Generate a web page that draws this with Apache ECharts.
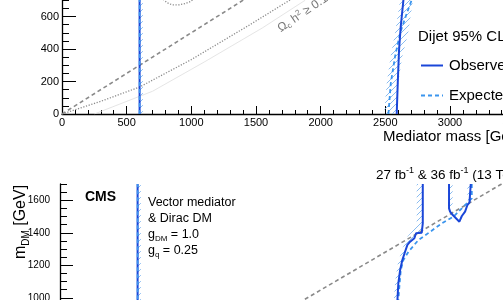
<!DOCTYPE html>
<html><head><meta charset="utf-8">
<script src="https://cdn.jsdelivr.net/npm/echarts@6/dist/echarts.min.js"></script>
<style>html,body{margin:0;padding:0;background:#fff;overflow:hidden;width:503px;height:300px}
#c{position:absolute;left:0;top:-100px;width:640px;height:700px}</style>
</head><body><div id="c"></div>
<script>
// ---------- data (Mediator mass [GeV], m_DM [GeV]) ----------
// upper panel (lower part of a dijet exclusion plot)
const topLowObs = [[600,0],[600,1000]];
const topObserved = [[2588,0],[2596,189],[2606,394],[2619,537],[2640,702],[2660,800]];
const topExpected = [[2524,0],[2542,189],[2575,353],[2614,497],[2666,620],[2704,702],[2740,780]];
const topHalfLine = [[0,0],[2000,1000]];
const topRelic = [[0,0],[300,78],[600,166],[1000,335],[1450,548],[1770,705],[1900,770]];
const topRelicArc = [[770,720],[790,700],[815,684],[850,672],[900,671],[950,679],[990,691],[1015,705],[1040,722]];
const topRelicHatch = [[250,0],[700,140],[1100,320],[1550,530],[1880,700]];
const topBandLow = [[600,0],[625,0],[625,1000],[600,1000]];
const topBandHigh = [[2490,0],[2511,189],[2540,350],[2575,497],[2614,702],[2640,800],[2740,800],[2714,702],[2676,497],[2630,350],[2600,189],[2590,0]];
// lower panel (upper part of a dijet exclusion plot)
const botLowObs = [[600,0],[600,1700]];
const botObservedA = [[2805,1700],[2805,1458],[2797,1400],[2753,1397],[2740,1366],[2707,1345],[2686,1325],[2668,1283],[2647,1232],[2630,1171],[2616,1089],[2609,986],[2605,900]];
const botObservedB = [[3008,1700],[3008,1550],[3016,1530],[3037,1509],[3088,1468],[3107,1503],[3132,1530],[3150,1571],[3166,1585],[3176,1597],[3176,1700]];
const botExpected = [[3184,1700],[3184,1612],[3158,1591],[3107,1550],[3042,1499],[2952,1458],[2862,1406],[2771,1355],[2694,1283],[2655,1232],[2635,1171],[2624,1068],[2616,986],[2612,900]];
const botGrayLine = [[1800,947],[3500,1740]];
const botBandLow = [[600,0],[625,0],[625,1700],[600,1700]];
const botBandA = [[2758,1700],[2805,1700],[2805,1458],[2797,1400],[2753,1397],[2740,1366],[2707,1345],[2686,1325],[2668,1283],[2647,1232],[2630,1171],[2616,1089],[2609,986],[2605,900],[2580,900],[2583,1000],[2592,1100],[2610,1200],[2640,1290],[2690,1380],[2740,1425],[2758,1440]];
const botBandB = [[3008,1700],[3036,1700],[3036,1560],[3010,1540]];
const botBandC = [[3150,1700],[3176,1700],[3176,1597],[3150,1600]];
const xTicks = {min:0, max:4000, step:500};
const yTicksTop = {min:0, max:1000, step:200};
const yTicksBot = {min:0, max:1700, step:200, minor:50};

// ---------- styles ----------
const FONT = 'Liberation Sans';
const OBS = '#1a46d8', EXP = '#3b95ee', GRAY = '#8a8a8a';
const DY = 100; // the chart box starts 100px above the visible window
function hatchCanvas(){
  const c = document.createElement('canvas'); c.width = 6; c.height = 6;
  const g = c.getContext('2d'); g.strokeStyle = '#7db4ee'; g.lineWidth = 0.9;
  g.beginPath(); g.moveTo(0,6); g.lineTo(6,0); g.moveTo(-1,1); g.lineTo(1,-1); g.moveTo(5,7); g.lineTo(7,5); g.stroke();
  return c;
}
const HATCH = {image: hatchCanvas(), repeat: 'repeat'};

function line(name, data, xi, yi, color, width, type){
  return {name, type:'line', xAxisIndex:xi, yAxisIndex:yi, data, symbol:'none', showSymbol:false,
    clip:true, silent:true, animation:false, lineStyle:{color, width, type: type||'solid'}, z:3};
}
function band(poly, xi, yi){
  return {type:'custom', coordinateSystem:'cartesian2d', xAxisIndex:xi, yAxisIndex:yi, data:[[0,0]],
    clip:true, silent:true, animation:false, z:1,
    renderItem:(p, api) => ({type:'polygon', shape:{points: poly.map(pt => api.coord(pt))}, style:{fill: HATCH, stroke:null}})};
}
const axLine = {lineStyle:{color:'#000', width:1.3}};
const lbl = (fs, m) => ({color:'#000', fontSize:fs, fontFamily:FONT, margin:m, formatter: v => String(v)});
function txt(x, y, text, font, extra){
  return Object.assign({type:'text', x, y:y+DY, style:Object.assign({text, font, fill:'#000',
    textAlign:'left', textVerticalAlign:'middle', align:'left', verticalAlign:'middle'}, extra||{})});
}
const subRich = (fs, sfs, lh) => ({a:{fontSize:fs, fontFamily:FONT, color:'#000', lineHeight:lh},
  b:{fontSize:sfs, fontFamily:FONT, color:'#000', lineHeight:sfs, verticalAlign:'bottom'},
  s:{fontSize:sfs, fontFamily:FONT, color:'#000', lineHeight:sfs, verticalAlign:'top'}});

const option = {
  animation:false,
  grid:[
    {left:62, right:60.67, top:51.5, bottom:486},
    {left:60, right:62.67, top:284, bottom:139.75}
  ],
  xAxis:[
    {gridIndex:0, type:'value', min:xTicks.min, max:xTicks.max, interval:xTicks.step,
      axisLine:axLine, axisTick:{inside:true, length:8, lineStyle:{color:'#000'}},
      minorTick:{show:true, splitNumber:5, length:4, lineStyle:{color:'#000'}},
      splitLine:{show:false}, axisLabel:lbl(11,3)},
    {gridIndex:1, type:'value', position:'top', min:xTicks.min, max:xTicks.max, interval:xTicks.step,
      axisLine:axLine, axisTick:{inside:true, length:8, lineStyle:{color:'#000'}},
      minorTick:{show:true, splitNumber:5, length:4, lineStyle:{color:'#000'}},
      splitLine:{show:false}, axisLabel:{show:false}}
  ],
  yAxis:[
    {gridIndex:0, type:'value', position:'left', min:yTicksTop.min, max:yTicksTop.max, interval:yTicksTop.step,
      axisLine:axLine, axisTick:{inside:true, length:14, lineStyle:{color:'#000'}},
      minorTick:{show:true, splitNumber:4, length:7, lineStyle:{color:'#000'}},
      splitLine:{show:false}, axisLabel:lbl(11,3)},
    {gridIndex:1, type:'value', position:'left', offset:0, min:yTicksBot.min, max:yTicksBot.max, interval:yTicksBot.step,
      axisLine:axLine, axisTick:{inside:true, length:13, lineStyle:{color:'#000'}},
      splitLine:{show:false}, axisLabel:Object.assign(lbl(10,10), {showMaxLabel:false})},
    {gridIndex:1, type:'value', position:'left', offset:0, min:yTicksBot.min, max:yTicksBot.max, interval:yTicksBot.minor,
      axisLine:{show:false}, axisTick:{inside:true, length:7, lineStyle:{color:'#000'}},
      splitLine:{show:false}, axisLabel:{show:false}}
  ],
  legend:{data:['Observed','Expected'], orient:'vertical', left:420, top:58+DY, padding:0, itemWidth:22, itemHeight:14, itemGap:15,
    selectedMode:false, itemStyle:{opacity:0}, textStyle:{fontSize:15, color:'#000', fontFamily:FONT, padding:[0,0,0,1]}},
  series:[
    band(topBandLow,0,0), band(topBandHigh,0,0),
    line('relicHatch', topRelicHatch, 0,0, '#dedede', 0.8),
    line('relic', topRelic, 0,0, GRAY, 1.3, [1.2,1.6]),
    line('relicArc', topRelicArc, 0,0, GRAY, 1.3, [1.2,1.6]),
    line('half', topHalfLine, 0,0, GRAY, 1.6, [4,3]),
    line('obsLow', topLowObs, 0,0, OBS, 2),
    line('expLow', topLowObs, 0,0, EXP, 1.6, [4,3]),
    line('Expected', topExpected, 0,0, EXP, 1.8, [4,3]),
    line('Observed', topObserved, 0,0, OBS, 2),

    band(botBandLow,1,1), band(botBandA,1,1), band(botBandB,1,1), band(botBandC,1,1),
    line('grayBot', botGrayLine, 1,1, GRAY, 1.6, [4,3]),
    line('obsLowB', botLowObs, 1,1, OBS, 2),
    line('expLowB', botLowObs, 1,1, EXP, 1.6, [4,3]),
    line('expBot', botExpected, 1,1, EXP, 1.8, [4,3]),
    line('obsBotA', botObservedA, 1,1, OBS, 2),
    line('obsBotB', botObservedB, 1,1, OBS, 2)
  ],
  graphic:[
    txt(418, 37, 'Dijet 95% CL', '15px "Liberation Sans"'),
    txt(383, 137, 'Mediator mass [GeV]', '15px "Liberation Sans"'),
    Object.assign(txt(279, 29.5, '{a|Ω}{b|c}{a| h}{s|2}{a| ≥ 0.12}', null, {fill:'#777',
      rich:{a:{fontSize:12, fontFamily:FONT, color:'#777', lineHeight:14}, b:{fontSize:8, fontFamily:FONT, color:'#777', lineHeight:7, verticalAlign:'bottom'},
            s:{fontSize:8, fontFamily:FONT, color:'#777', lineHeight:7, verticalAlign:'top'}}}), {rotation:34*Math.PI/180}),
    txt(85, 197, 'CMS', 'bold 14px "Liberation Sans"'),
    txt(148, 203, 'Vector mediator', '12.5px "Liberation Sans"'),
    txt(148, 219, '& Dirac DM', '12.5px "Liberation Sans"'),
    txt(148, 235, '{a|g}{b|DM}{a| = 1.0}', null, {rich:subRich(12.5, 8, 16)}),
    txt(148, 251, '{a|g}{b|q}{a| = 0.25}', null, {rich:subRich(12.5, 8, 16)}),
    txt(376, 175, '{a|27 fb}{s|-1}{a| & 36 fb}{s|-1}{a| (13 TeV)}', null, {rich:subRich(13.5, 9, 17)}),
    Object.assign(txt(21, 222, '{a|m}{b|DM}{a| [GeV]}', null, {textAlign:'center', align:'center', rich:subRich(16, 10, 20)}), {rotation:Math.PI/2})
  ]
};
const chart = echarts.init(document.getElementById('c'), null, {renderer:'canvas'});
chart.setOption(option);
</script></body></html>
